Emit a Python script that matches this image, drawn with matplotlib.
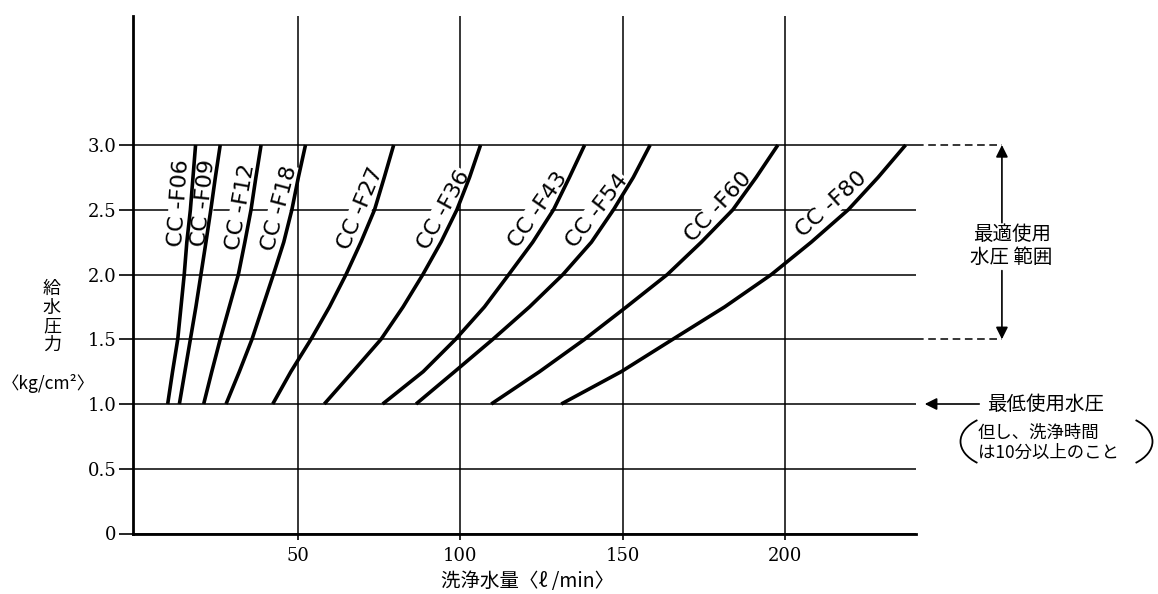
import matplotlib
matplotlib.use("Agg")
import matplotlib.pyplot as plt
from matplotlib.patches import Arc

JP = ['Noto Sans CJK JP', 'DejaVu Sans']
plt.rcParams['font.family'] = ['DejaVu Serif']

# 給水圧力 (kg/cm2) at which each flow was read
pressure = [1.0, 1.25, 1.5, 1.75, 2.0, 2.25, 2.5, 2.75, 3.0]

# 洗浄水量 (l/min) for each model, read at the pressures above
f06 = [9.7, 11.2, 12.8, 13.8, 14.8, 15.6, 16.7, 17.5, 18.3]
f09 = [13.3, 15.0, 16.7, 18.4, 19.95, 21.5, 23.0, 24.4, 25.9]
f12 = [20.8, 23.3, 25.9, 28.7, 31.5, 33.5, 35.4, 36.9, 38.5]
f18 = [27.7, 31.8, 35.7, 39.0, 42.3, 45.5, 48.0, 50.0, 52.2]
f27 = [42.1, 47.7, 53.9, 59.6, 64.7, 69.3, 73.5, 76.5, 79.4]
f36 = [58.0, 66.8, 75.5, 82.3, 88.4, 94.0, 98.9, 102.8, 106.2]
f43 = [76.0, 88.5, 98.5, 107.4, 114.9, 122.3, 128.7, 133.6, 138.3]
f54 = [86.3, 98.2, 110.0, 121.3, 131.6, 140.4, 147.2, 153.3, 158.5]
f60 = [109.5, 124.4, 138.3, 151.2, 163.8, 174.3, 184.0, 191.2, 197.9]
f80 = [131.1, 149.6, 165.5, 181.5, 195.9, 208.2, 219.6, 228.8, 237.3]

models = ['CC -F06', 'CC -F09', 'CC -F12', 'CC -F18', 'CC -F27',
          'CC -F36', 'CC -F43', 'CC -F54', 'CC -F60', 'CC -F80']
series = [f06, f09, f12, f18, f27, f36, f43, f54, f60, f80]

# where each model name sits, and its angle
label_xy = [(13.3, 2.55), (20.7, 2.55), (32.3, 2.52), (44.1, 2.51), (69.3, 2.51),
            (94.8, 2.50), (123.9, 2.50), (142.1, 2.49), (179.6, 2.52), (214.4, 2.54)]
label_rot = [86, 84, 80, 75, 67, 61, 55, 52, 47, 42]

yticks = [0, 0.5, 1.0, 1.5, 2.0, 2.5, 3.0]
ytick_labels = ['0', '0.5', '1.0', '1.5', '2.0', '2.5', '3.0']
xticks = [50, 100, 150, 200]

fig = plt.figure(figsize=(11.58, 5.94), dpi=100)
ax = fig.add_axes([133 / 1158, 60.5 / 594, 783 / 1158, 518 / 594])

ax.set_xlim(-1, 240.5)
ax.set_ylim(0, 4.0)

for s in ['top', 'right']:
    ax.spines[s].set_visible(False)
ax.spines['left'].set_linewidth(2.0)
ax.spines['bottom'].set_linewidth(2.0)

ax.set_yticks(yticks)
ax.set_yticklabels(ytick_labels, fontsize=13)
ax.set_xticks(xticks)
ax.set_xticklabels([str(v) for v in xticks], fontsize=13)
ax.tick_params(axis='y', length=10, width=1.2, pad=2)
ax.tick_params(axis='x', length=4, width=1.2, pad=6)

ax.grid(True, color='black', linewidth=1.1, zorder=1)
ax.set_axisbelow(True)

for xs, name, (lx, ly), rot in zip(series, models, label_xy, label_rot):
    ax.plot(xs, pressure, color='black', linewidth=2.6, solid_capstyle='butt',
            solid_joinstyle='round', zorder=4)
    ax.text(lx, ly, name, rotation=rot, rotation_mode='anchor', ha='center', va='center',
            fontsize=16, family='DejaVu Sans', zorder=3,
            bbox=dict(facecolor='white', edgecolor='none', pad=0.5))

# axis titles
ax.text(-26, 1.67, '給\n水\n圧\n力', ha='center', va='center', fontsize=13,
        family=JP, linespacing=1.05)
ax.text(-27, 1.16, '〈kg/cm²〉', ha='center', va='center', fontsize=12.5, family=JP)
fig.text(528 / 1158, 1 - 582 / 594, '洗浄水量〈ℓ /min〉', ha='center', va='center',
         fontsize=14, family=JP)

# optimum range on the right
for y in [3.0, 1.5]:
    ax.plot([240.5, 267], [y, y], color='black', linewidth=1.1, linestyle=(0, (5, 3)),
            clip_on=False)
arrow = dict(arrowstyle='-|>', color='black', lw=1.2, mutation_scale=18, shrinkA=0, shrinkB=0)
ax.annotate('', xy=(267, 3.0), xytext=(267, 2.40), arrowprops=arrow, annotation_clip=False)
ax.annotate('', xy=(267, 1.5), xytext=(267, 2.03), arrowprops=arrow, annotation_clip=False)
ax.text(270, 2.22, '最適使用\n水圧 範囲', ha='center', va='center', fontsize=14,
        family=JP, linespacing=1.15, clip_on=False)

# minimum pressure
ax.annotate('', xy=(243.2, 1.0), xytext=(260, 1.0), arrowprops=arrow, annotation_clip=False)
ax.text(262.3, 1.0, '最低使用水圧', ha='left', va='center', fontsize=14, family=JP)
ax.text(259.6, 0.70, '但し、洗浄時間\nは10分以上のこと', ha='left', va='center',
        fontsize=12.5, family=JP, linespacing=1.1)
# thin tall brackets round the note (figure inches)
for cx, t1, t2 in [(10.08, 145, 215), (11.05, -35, 35)]:
    fig.add_artist(Arc((cx, 1.525), 0.95, 0.56, theta1=t1, theta2=t2, color='black',
                       linewidth=1.3, transform=fig.dpi_scale_trans))

fig.savefig('out.png', dpi=100, facecolor='white')
